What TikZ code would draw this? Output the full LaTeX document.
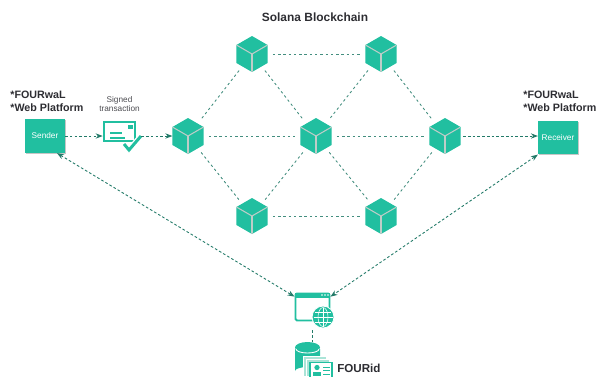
\documentclass[tikz,border=0pt]{standalone}
\usepackage{fontspec}
\setmainfont{Liberation Sans}
\usepackage{xcolor}
\usetikzlibrary{shapes.geometric,shadows,arrows.meta}
\definecolor{solteal}{RGB}{33,191,160}
\definecolor{solpale}{RGB}{170,228,215}
\definecolor{solline}{RGB}{34,122,104}
\definecolor{solgray}{RGB}{190,205,200}
\definecolor{soltext}{RGB}{45,45,50}
\tikzset{
  cube/.style={regular polygon, regular polygon sides=6, shape border rotate=30,
    minimum size=0.72cm, inner sep=0pt, outer sep=0pt, fill=solteal,
    path picture={
      \draw[solgray, line width=0.6pt] (path picture bounding box.center) -- ++(-90:0.36cm);
      \draw[solgray, line width=0.6pt] (path picture bounding box.center) -- ++(30:0.36cm);
      \draw[solgray, line width=0.6pt] (path picture bounding box.center) -- ++(150:0.36cm);
    }},
  party/.style={rectangle, fill=solteal, inner sep=0pt, minimum width=0.79cm, minimum height=0.67cm,
    text=white, font=\fontsize{4.7}{5.6}\selectfont,
    drop shadow={opacity=0.45, shadow xshift=0.7pt, shadow yshift=-0.7pt}},
  link/.style={solline!85, line width=0.5pt, dash pattern=on 1.4pt off 1.6pt, shorten <=3pt, shorten >=3pt},
  flow/.style={solline, line width=0.5pt, dash pattern=on 1.5pt off 1.2pt, -{Stealth[length=4pt,width=3pt]}},
  heading/.style={font=\bfseries\fontsize{6.1}{7.4}\selectfont, text=soltext, align=left, inner sep=0pt},
}
\begin{document}
\begin{tikzpicture}[x=0.02cm, y=-0.02cm]
  \useasboundingbox (0,0) rectangle (597,376);
  % Title
  \node[heading, font=\bfseries\fontsize{6.8}{8}\selectfont] (title) at (315,17) {Solana Blockchain};
  % Blockchain cubes
  \foreach \name/\x/\y in {ctl/252/54, ctr/381/54, cml/188/136, cmm/316/136, cmr/445/136, cbl/252/216, cbr/381/216} {
    \node[cube] (\name) at (\x,\y) {};
  }
  % Links between cubes
  \foreach \from/\to in {ctl/ctr, ctl/cml, ctl/cmm, ctr/cmm, ctr/cmr, cml/cbl, cmm/cbl, cmm/cbr, cmr/cbr, cbl/cbr, cml/cmm, cmm/cmr} {
    \draw[link] (\from) -- (\to);
  }
  % Sender and receiver
  \node[party] (sender) at (45,136) {Sender};
  \node[party] (receiver) at (558,137.5) {Receiver};
  \node[heading, anchor=south west] (senderapps) at (10,112) {*FOURwaL\\*Web Platform};
  \node[heading, anchor=south west] (receiverapps) at (523,112) {*FOURwaL\\*Web Platform};
  % Signed transaction icon
  \node[minimum width=0.76cm, minimum height=0.58cm, inner sep=0pt] (txdoc) at (122,136) {};
  \node[font=\fontsize{4.7}{5.6}\selectfont, text=soltext!85, align=center, inner sep=0pt] (txlabel) at (119.5,104) {Signed\\transaction};
  \draw[solteal, line width=1pt] (104,122) rectangle (135,141);
  \fill[solteal] (128,125) rectangle (133,129);
  \draw[solteal, line width=0.8pt] (110,133) -- (122,133) (110,138) -- (125,138);
  \draw[white, line width=3.2pt] (124,144) -- (129,150) -- (141,136);
  \draw[solteal, line width=1.7pt] (124,144) -- (129,150) -- (141,136);
  % Transaction flow
  \draw[flow] (sender) -- (txdoc);
  \draw[flow] (txdoc) -- (cml);
  \draw[flow, shorten <=1.5pt] (cmr) -- (receiver.west |- cmr);
  % Web portal icon
  \node[rectangle, draw=solteal, line width=1.1pt, rounded corners=0.8pt, fill=white, minimum width=0.68cm, minimum height=0.54cm, inner sep=0pt] (web) at (312.5,307) {};
  \fill[solteal] (web.north west) rectangle (330,297.5);
  \fill[white] (322,295) circle (0.5pt) (325,295) circle (0.5pt) (328,295) circle (0.5pt);
  \node[circle, fill=solteal, draw=white, line width=0.5pt, minimum size=0.44cm, inner sep=0pt] (globe) at (323,317) {};
  \draw[white, line width=0.3pt] (323,307.5) -- (323,326.5) (313.5,317) -- (332.5,317) (315,312) -- (331,312) (315,322) -- (331,322);
  \draw[white, line width=0.3pt] (323,317) ellipse (5 and 9.5);
  % Identity database icon
  \fill[solteal] (295,349) -- (295,371) arc (180:0:12.5 and -4) -- (320,349) -- cycle;
  \fill[solteal] (307.5,347.5) ellipse (12.5 and 5.5);
  \draw[white, line width=0.5pt] (296,349) arc (180:360:11.5 and -4);
  \node[minimum width=0.48cm, minimum height=0.6cm, inner sep=0pt] (fourdb) at (307.5,357) {};
  \fill[solpale, draw=white, line width=0.3pt] (303,356) rectangle (326,376);
  \fill[solpale, draw=white, line width=0.3pt] (306.5,359) rectangle (329,376);
  \fill[white, draw=solteal, line width=0.7pt] (310,362.5) rectangle (332,378);
  \fill[solteal] (317,367.5) circle (1.5pt);
  \fill[solteal] (313,376) rectangle (321,372);
  \draw[solteal, line width=0.5pt] (323,367) -- (330,367) (323,370.5) -- (330,370.5) (323,374) -- (330,374);
  \node[heading, font=\bfseries\fontsize{6.6}{8}\selectfont, anchor=west] (fourid) at (337,368.5) {FOURid};
  % Connections to the portal
  \draw[flow, {Stealth[length=4pt,width=3pt]}-{Stealth[length=4pt,width=3pt]}] (sender.-55) -- (web.150);
  \draw[flow, {Stealth[length=4pt,width=3pt]}-{Stealth[length=4pt,width=3pt]}] (receiver.south west) -- (web.30);
  \draw[solline, line width=0.5pt, dash pattern=on 1.5pt off 1.2pt] (web.south) ++(0,9) -- (web.south |- fourdb.north);
\end{tikzpicture}
\end{document}
